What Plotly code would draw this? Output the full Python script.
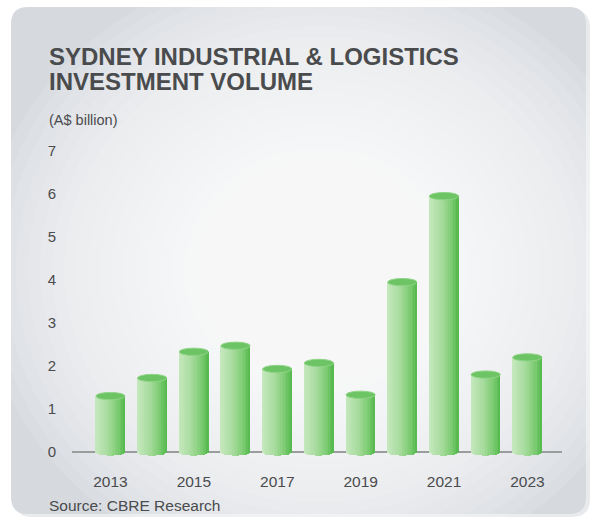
import plotly.graph_objects as go
import math

years = [2013, 2014, 2015, 2016, 2017, 2018, 2019, 2020, 2021, 2022, 2023]
volume = [1.30, 1.72, 2.33, 2.47, 1.93, 2.07, 1.33, 3.95, 5.95, 1.80, 2.20]
y_ticks = [0, 1, 2, 3, 4, 5, 6, 7]
x_ticks = [2013, 2015, 2017, 2019, 2021, 2023]

W, H = 594, 518
L, R, T, B = 72, 32, 151, 60
pw, ph = W - L - R, H - T - B

def px(x):
    return (x - L) / pw

def py(y):
    return (H - B - y) / ph

fig = go.Figure()

# cylinder body built from vertical strips (horizontal shading)
bar_w = 0.70
n_strips = 18
h = 0.085  # ellipse half-height in data units
stops = [(0.0, (198, 232, 190)), (0.45, (166, 219, 156)), (0.8, (120, 202, 110)), (1.0, (84, 184, 76))]

def col(t):
    for (t0, c0), (t1, c1) in zip(stops[:-1], stops[1:]):
        if t <= t1:
            f = (t - t0) / (t1 - t0)
            return "rgb(%d,%d,%d)" % tuple(round(a + (b - a) * f) for a, b in zip(c0, c1))
    return "rgb(%d,%d,%d)" % stops[-1][1]

sw = bar_w / n_strips
for i in range(n_strips):
    u = -1 + (2 * i + 1) / n_strips
    base = -h * math.sqrt(max(0.0, 1 - u * u))
    fig.add_trace(go.Bar(
        x=years, y=[v - base for v in volume], base=[base] * len(years),
        offset=-bar_w / 2 + i * sw, width=sw * 1.08,
        marker=dict(color=col((u + 1) / 2), line=dict(width=0)),
        cliponaxis=False, showlegend=False, hoverinfo="skip"))

def rr(xa, xb, ya, yb, rad):
    return (f"M {px(xa+rad)},{py(ya)} L {px(xb-rad)},{py(ya)} Q {px(xb)},{py(ya)} {px(xb)},{py(ya+rad)} "
            f"L {px(xb)},{py(yb-rad)} Q {px(xb)},{py(yb)} {px(xb-rad)},{py(yb)} L {px(xa+rad)},{py(yb)} "
            f"Q {px(xa)},{py(yb)} {px(xa)},{py(yb-rad)} L {px(xa)},{py(ya+rad)} Q {px(xa)},{py(ya)} {px(xa+rad)},{py(ya)} Z")

shapes = []
# card background with soft shadow
shapes.append(dict(type="path", xref="paper", yref="paper", path=rr(14, 590, 10, 517, 18),
                   fillcolor="rgba(190,195,200,0.35)", line=dict(width=0), layer="below"))
shapes.append(dict(type="path", xref="paper", yref="paper", path=rr(11, 586, 7, 514, 17),
                   fillcolor="#d6dadf", line=dict(width=0), layer="below"))
# radial brightening
cx, cy = 320, 270
for k in range(24):
    rx = 340 - k * 12
    ry = 310 - k * 11
    shapes.append(dict(type="circle", xref="paper", yref="paper",
                       x0=px(cx - rx), x1=px(cx + rx), y0=py(cy + ry), y1=py(cy - ry),
                       fillcolor="rgba(255,255,255,0.10)", line=dict(width=0), layer="below"))
# baseline
shapes.append(dict(type="line", xref="paper", yref="y", x0=0, x1=1, y0=0, y1=0,
                   line=dict(color="#9a9c9e", width=2), layer="below"))
# cylinder tops
for yr, v in zip(years, volume):
    shapes.append(dict(type="circle", xref="x", yref="y",
                       x0=yr - bar_w / 2, x1=yr + bar_w / 2, y0=v - h, y1=v + h,
                       fillcolor="#6cc464", line=dict(color="#8fd487", width=1), layer="above"))

font = "Liberation Sans, Arial, sans-serif"
tc = "#4a4b4d"
annotations = [
    dict(text="<b>SYDNEY INDUSTRIAL & LOGISTICS</b>", x=px(47), y=py(56), xanchor="left", yanchor="middle",
         font=dict(size=24, color=tc, family=font)),
    dict(text="<b>INVESTMENT VOLUME</b>", x=px(47), y=py(82), xanchor="left", yanchor="middle",
         font=dict(size=24, color=tc, family=font)),
    dict(text="(A$ billion)", x=px(47), y=py(120), xanchor="left", yanchor="middle",
         font=dict(size=14.5, color=tc, family=font)),
    dict(text="Source: CBRE Research", x=px(47), y=py(505), xanchor="left", yanchor="middle",
         font=dict(size=15.5, color=tc, family=font)),
]
for a in annotations:
    a.update(xref="paper", yref="paper", showarrow=False)

fig.update_layout(
    width=W, height=H, margin=dict(l=L, r=R, t=T, b=B),
    paper_bgcolor="white", plot_bgcolor="rgba(0,0,0,0)",
    barmode="overlay", bargap=0,
    shapes=shapes, annotations=annotations,
    xaxis=dict(range=[2012.077, 2023.83], tickvals=x_ticks, ticktext=[str(t) for t in x_ticks],
               showgrid=False, zeroline=False, showline=False, ticks="",
               ticklabelstandoff=12, tickfont=dict(size=15.5, color=tc, family=font)),
    yaxis=dict(range=[-0.14, 7.0], tickvals=y_ticks, showgrid=False, zeroline=False, showline=False,
               ticks="", ticklabelstandoff=15, tickfont=dict(size=15, color=tc, family=font)),
)

fig.write_html("out.html", config={"displayModeBar": False},
               post_script="document.body.style.margin='0';")
